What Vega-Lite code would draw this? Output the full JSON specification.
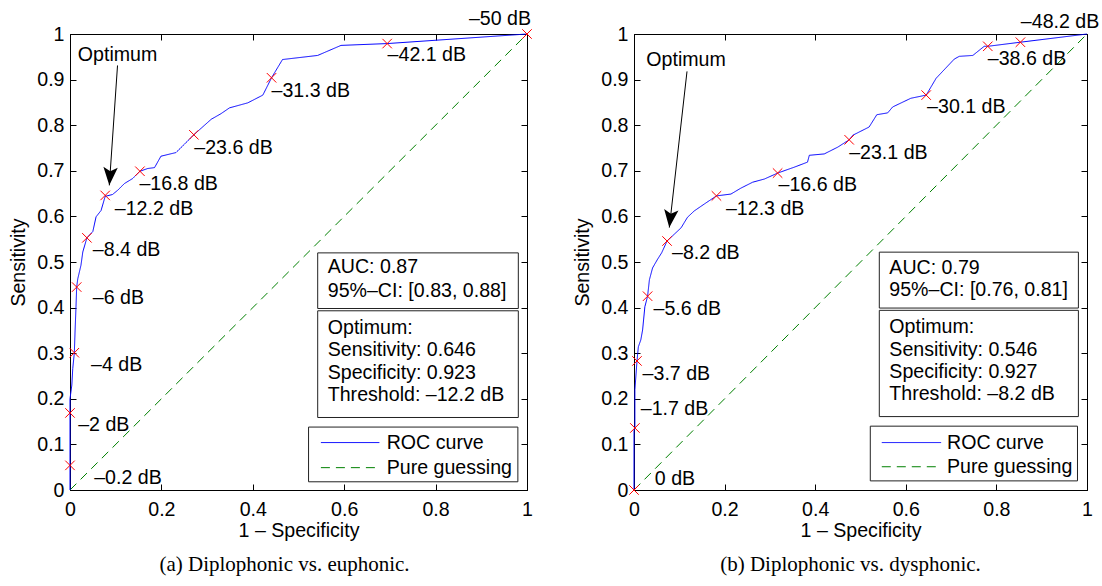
{
  "$schema": "https://vega.github.io/schema/vega-lite/v6.json",
  "padding": {"left": 8, "top": 8, "right": 4, "bottom": 10},
  "background": "white",
  "datasets": {
    "rocA": [
      {"series": "Pure guessing", "fpr": 0, "tpr": 0},
      {"series": "Pure guessing", "fpr": 1, "tpr": 1},
      {"series": "ROC curve", "fpr": 0, "tpr": 0},
      {"series": "ROC curve", "fpr": 0, "tpr": 0.055},
      {"series": "ROC curve", "fpr": 0, "tpr": 0.17},
      {"series": "ROC curve", "fpr": 0, "tpr": 0.2},
      {"series": "ROC curve", "fpr": 0.004, "tpr": 0.23},
      {"series": "ROC curve", "fpr": 0.006, "tpr": 0.266},
      {"series": "ROC curve", "fpr": 0.0095, "tpr": 0.301},
      {"series": "ROC curve", "fpr": 0.011, "tpr": 0.346},
      {"series": "ROC curve", "fpr": 0.013, "tpr": 0.398},
      {"series": "ROC curve", "fpr": 0.0146, "tpr": 0.445},
      {"series": "ROC curve", "fpr": 0.017, "tpr": 0.463},
      {"series": "ROC curve", "fpr": 0.024, "tpr": 0.493},
      {"series": "ROC curve", "fpr": 0.028, "tpr": 0.522},
      {"series": "ROC curve", "fpr": 0.037, "tpr": 0.553},
      {"series": "ROC curve", "fpr": 0.05, "tpr": 0.567},
      {"series": "ROC curve", "fpr": 0.057, "tpr": 0.599},
      {"series": "ROC curve", "fpr": 0.068, "tpr": 0.613},
      {"series": "ROC curve", "fpr": 0.077, "tpr": 0.644},
      {"series": "ROC curve", "fpr": 0.093, "tpr": 0.648},
      {"series": "ROC curve", "fpr": 0.104, "tpr": 0.657},
      {"series": "ROC curve", "fpr": 0.119, "tpr": 0.672},
      {"series": "ROC curve", "fpr": 0.137, "tpr": 0.683},
      {"series": "ROC curve", "fpr": 0.153, "tpr": 0.699},
      {"series": "ROC curve", "fpr": 0.17, "tpr": 0.705},
      {"series": "ROC curve", "fpr": 0.185, "tpr": 0.707},
      {"series": "ROC curve", "fpr": 0.199, "tpr": 0.732},
      {"series": "ROC curve", "fpr": 0.232, "tpr": 0.74},
      {"series": "ROC curve", "fpr": 0.271, "tpr": 0.779},
      {"series": "ROC curve", "fpr": 0.309, "tpr": 0.813},
      {"series": "ROC curve", "fpr": 0.33, "tpr": 0.825},
      {"series": "ROC curve", "fpr": 0.349, "tpr": 0.838},
      {"series": "ROC curve", "fpr": 0.389, "tpr": 0.849},
      {"series": "ROC curve", "fpr": 0.422, "tpr": 0.866},
      {"series": "ROC curve", "fpr": 0.441, "tpr": 0.904},
      {"series": "ROC curve", "fpr": 0.465, "tpr": 0.944},
      {"series": "ROC curve", "fpr": 0.542, "tpr": 0.953},
      {"series": "ROC curve", "fpr": 0.593, "tpr": 0.975},
      {"series": "ROC curve", "fpr": 0.694, "tpr": 0.979},
      {"series": "ROC curve", "fpr": 1, "tpr": 1}
    ],
    "rocB": [
      {"series": "Pure guessing", "fpr": 0, "tpr": 0},
      {"series": "Pure guessing", "fpr": 1, "tpr": 1},
      {"series": "ROC curve", "fpr": 0, "tpr": 0},
      {"series": "ROC curve", "fpr": 0, "tpr": 0.13},
      {"series": "ROC curve", "fpr": 0.002, "tpr": 0.136},
      {"series": "ROC curve", "fpr": 0.002, "tpr": 0.22},
      {"series": "ROC curve", "fpr": 0.0066, "tpr": 0.283},
      {"series": "ROC curve", "fpr": 0.0096, "tpr": 0.314},
      {"series": "ROC curve", "fpr": 0.015, "tpr": 0.329},
      {"series": "ROC curve", "fpr": 0.019, "tpr": 0.351},
      {"series": "ROC curve", "fpr": 0.024, "tpr": 0.402},
      {"series": "ROC curve", "fpr": 0.03, "tpr": 0.425},
      {"series": "ROC curve", "fpr": 0.034, "tpr": 0.461},
      {"series": "ROC curve", "fpr": 0.041, "tpr": 0.487},
      {"series": "ROC curve", "fpr": 0.052, "tpr": 0.506},
      {"series": "ROC curve", "fpr": 0.061, "tpr": 0.52},
      {"series": "ROC curve", "fpr": 0.073, "tpr": 0.546},
      {"series": "ROC curve", "fpr": 0.089, "tpr": 0.561},
      {"series": "ROC curve", "fpr": 0.104, "tpr": 0.575},
      {"series": "ROC curve", "fpr": 0.118, "tpr": 0.598},
      {"series": "ROC curve", "fpr": 0.133, "tpr": 0.612},
      {"series": "ROC curve", "fpr": 0.155, "tpr": 0.627},
      {"series": "ROC curve", "fpr": 0.182, "tpr": 0.645},
      {"series": "ROC curve", "fpr": 0.214, "tpr": 0.649},
      {"series": "ROC curve", "fpr": 0.236, "tpr": 0.662},
      {"series": "ROC curve", "fpr": 0.262, "tpr": 0.675},
      {"series": "ROC curve", "fpr": 0.288, "tpr": 0.682},
      {"series": "ROC curve", "fpr": 0.317, "tpr": 0.695},
      {"series": "ROC curve", "fpr": 0.354, "tpr": 0.708},
      {"series": "ROC curve", "fpr": 0.383, "tpr": 0.719},
      {"series": "ROC curve", "fpr": 0.387, "tpr": 0.734},
      {"series": "ROC curve", "fpr": 0.42, "tpr": 0.737},
      {"series": "ROC curve", "fpr": 0.45, "tpr": 0.752},
      {"series": "ROC curve", "fpr": 0.475, "tpr": 0.768},
      {"series": "ROC curve", "fpr": 0.483, "tpr": 0.778},
      {"series": "ROC curve", "fpr": 0.519, "tpr": 0.796},
      {"series": "ROC curve", "fpr": 0.536, "tpr": 0.823},
      {"series": "ROC curve", "fpr": 0.56, "tpr": 0.827},
      {"series": "ROC curve", "fpr": 0.571, "tpr": 0.84},
      {"series": "ROC curve", "fpr": 0.611, "tpr": 0.859},
      {"series": "ROC curve", "fpr": 0.645, "tpr": 0.866},
      {"series": "ROC curve", "fpr": 0.667, "tpr": 0.903},
      {"series": "ROC curve", "fpr": 0.707, "tpr": 0.945},
      {"series": "ROC curve", "fpr": 0.718, "tpr": 0.951},
      {"series": "ROC curve", "fpr": 0.748, "tpr": 0.953},
      {"series": "ROC curve", "fpr": 0.773, "tpr": 0.973},
      {"series": "ROC curve", "fpr": 0.781, "tpr": 0.973},
      {"series": "ROC curve", "fpr": 0.853, "tpr": 0.982},
      {"series": "ROC curve", "fpr": 1, "tpr": 1}
    ],
    "markA": [
      {"label": "–0.2 dB", "fpr": 0, "tpr": 0.054, "lx": 0.053, "ly": 0.026},
      {"label": "–2 dB", "fpr": 0, "tpr": 0.169, "lx": 0.018, "ly": 0.143},
      {"label": "–4 dB", "fpr": 0.0095, "tpr": 0.301, "lx": 0.046, "ly": 0.275},
      {"label": "–6 dB", "fpr": 0.0146, "tpr": 0.445, "lx": 0.05, "ly": 0.42},
      {"label": "–8.4 dB", "fpr": 0.037, "tpr": 0.553, "lx": 0.05, "ly": 0.526},
      {"label": "–12.2 dB", "fpr": 0.077, "tpr": 0.646, "lx": 0.098, "ly": 0.617},
      {"label": "–16.8 dB", "fpr": 0.153, "tpr": 0.699, "lx": 0.152, "ly": 0.672},
      {"label": "–23.6 dB", "fpr": 0.271, "tpr": 0.779, "lx": 0.272, "ly": 0.751},
      {"label": "–31.3 dB", "fpr": 0.441, "tpr": 0.904, "lx": 0.441, "ly": 0.876},
      {"label": "–42.1 dB", "fpr": 0.694, "tpr": 0.979, "lx": 0.695, "ly": 0.953},
      {"label": "–50 dB", "fpr": 1, "tpr": 1, "lx": 0.873, "ly": 1.033}
    ],
    "markB": [
      {"label": "0 dB", "fpr": 0, "tpr": 0, "lx": 0.046, "ly": 0.024},
      {"label": "–1.7 dB", "fpr": 0.002, "tpr": 0.136, "lx": 0.015, "ly": 0.178},
      {"label": "–3.7 dB", "fpr": 0.0066, "tpr": 0.283, "lx": 0.019, "ly": 0.255},
      {"label": "–5.6 dB", "fpr": 0.03, "tpr": 0.425, "lx": 0.043, "ly": 0.397},
      {"label": "–8.2 dB", "fpr": 0.073, "tpr": 0.546, "lx": 0.084, "ly": 0.519},
      {"label": "–12.3 dB", "fpr": 0.182, "tpr": 0.645, "lx": 0.203, "ly": 0.617},
      {"label": "–16.6 dB", "fpr": 0.317, "tpr": 0.695, "lx": 0.319, "ly": 0.669},
      {"label": "–23.1 dB", "fpr": 0.475, "tpr": 0.768, "lx": 0.475, "ly": 0.74},
      {"label": "–30.1 dB", "fpr": 0.645, "tpr": 0.866, "lx": 0.647, "ly": 0.84},
      {"label": "–38.6 dB", "fpr": 0.781, "tpr": 0.973, "lx": 0.781, "ly": 0.945},
      {"label": "–48.2 dB", "fpr": 0.853, "tpr": 0.982, "lx": 0.854, "ly": 1.026}
    ],
    "boxA": [
      {"x1": 0.542, "x2": 0.981, "y1": 0.398, "y2": 0.52},
      {"x1": 0.542, "x2": 0.981, "y1": 0.159, "y2": 0.393},
      {"x1": 0.522, "x2": 0.98, "y1": 0.018, "y2": 0.138}
    ],
    "boxB": [
      {"x1": 0.5415, "x2": 0.981, "y1": 0.399, "y2": 0.5216},
      {"x1": 0.5415, "x2": 0.981, "y1": 0.161, "y2": 0.394},
      {"x1": 0.5216, "x2": 0.979, "y1": 0.02, "y2": 0.14}
    ],
    "txtA": [
      {"tx": 0.564, "ty": 0.489, "t": "AUC: 0.87"},
      {"tx": 0.564, "ty": 0.436, "t": "95%–CI: [0.83, 0.88]"},
      {"tx": 0.564, "ty": 0.355, "t": "Optimum:"},
      {"tx": 0.564, "ty": 0.306, "t": "Sensitivity: 0.646"},
      {"tx": 0.564, "ty": 0.257, "t": "Specificity: 0.923"},
      {"tx": 0.564, "ty": 0.208, "t": "Threshold: –12.2 dB"},
      {"tx": 0.693, "ty": 0.104, "t": "ROC curve"},
      {"tx": 0.693, "ty": 0.049, "t": "Pure guessing"}
    ],
    "txtB": [
      {"tx": 0.5636, "ty": 0.487, "t": "AUC: 0.79"},
      {"tx": 0.5636, "ty": 0.439, "t": "95%–CI: [0.76, 0.81]"},
      {"tx": 0.5636, "ty": 0.357, "t": "Optimum:"},
      {"tx": 0.5636, "ty": 0.307, "t": "Sensitivity: 0.546"},
      {"tx": 0.5636, "ty": 0.259, "t": "Specificity: 0.927"},
      {"tx": 0.5636, "ty": 0.21, "t": "Threshold: –8.2 dB"},
      {"tx": 0.691, "ty": 0.104, "t": "ROC curve"},
      {"tx": 0.691, "ty": 0.051, "t": "Pure guessing"}
    ],
    "legA": [
      {"series": "ROC curve", "x1": 0.549, "x2": 0.677, "y": 0.104},
      {"series": "Pure guessing", "x1": 0.549, "x2": 0.677, "y": 0.049}
    ],
    "legB": [
      {"series": "ROC curve", "x1": 0.547, "x2": 0.678, "y": 0.104},
      {"series": "Pure guessing", "x1": 0.547, "x2": 0.678, "y": 0.051}
    ],
    "arrA": [
      {"t": "Optimum", "tx": 0.104, "ty": 0.955, "x1": 0.104, "y1": 0.931, "x2": 0.086, "y2": 0.668, "hx": 0.0874, "hy": 0.688}
    ],
    "arrB": [
      {"t": "Optimum", "tx": 0.115, "ty": 0.943, "x1": 0.117, "y1": 0.918, "x2": 0.078, "y2": 0.5755, "hx": 0.0801, "hy": 0.595}
    ]
  },
  "hconcat": [
    {
      "width": 457,
      "height": 456,
      "title": {"text": "(a) Diplophonic vs. euphonic.", "orient": "bottom", "frame": "group", "dx": -14, "offset": 14, "font": "Liberation Serif", "fontSize": 21, "fontWeight": "normal", "color": "black"},
      "resolve": {"axis": {"x": "independent", "y": "independent"}},
      "layer": [
        {
          "data": {"name": "rocA"},
          "mark": {"type": "line", "strokeWidth": 1},
          "encoding": {
            "x": {"field": "fpr", "type": "quantitative", "scale": {"domain": [0, 1], "nice": false}, "axis": {"title": "1 – Specificity", "values": [0, 0.2, 0.4, 0.6, 0.8, 1], "format": "~g", "labelPadding": 16, "titlePadding": 3}},
            "y": {"field": "tpr", "type": "quantitative", "scale": {"domain": [0, 1], "nice": false}, "axis": {"title": "Sensitivity", "values": [0, 0.1, 0.2, 0.3, 0.4, 0.5, 0.6, 0.7, 0.8, 0.9, 1], "format": "~g", "labelPadding": 12, "titlePadding": 8}},
            "color": {"field": "series", "type": "nominal", "scale": {"domain": ["ROC curve", "Pure guessing"], "range": ["#0000ff", "#008000"]}, "legend": null},
            "strokeDash": {"field": "series", "type": "nominal", "scale": {"domain": ["ROC curve", "Pure guessing"], "range": [[1, 0], [9, 6]]}, "legend": null},
            "order": [{"field": "tpr", "type": "quantitative"}, {"field": "fpr", "type": "quantitative"}]
          }
        },
        {
          "data": {"name": "markA"},
          "mark": {"type": "point", "shape": "M-1,-1L1,1M1,-1L-1,1", "size": 90, "filled": false, "color": "#ff0000", "strokeWidth": 1, "opacity": 1},
          "encoding": {
            "x": {"field": "fpr", "type": "quantitative", "scale": {"domain": [0, 1], "nice": false}, "axis": {"orient": "top", "labels": false, "title": null, "domain": false, "values": [0, 0.2, 0.4, 0.6, 0.8, 1]}},
            "y": {"field": "tpr", "type": "quantitative", "scale": {"domain": [0, 1], "nice": false}, "axis": {"orient": "right", "labels": false, "title": null, "domain": false, "values": [0, 0.1, 0.2, 0.3, 0.4, 0.5, 0.6, 0.7, 0.8, 0.9, 1]}}
          }
        },
        {
          "data": {"name": "markA"},
          "mark": {"type": "text", "align": "left", "baseline": "middle", "fontSize": 19.6, "color": "black"},
          "encoding": {
            "x": {"field": "lx", "type": "quantitative", "scale": {"domain": [0, 1], "nice": false}, "axis": null},
            "y": {"field": "ly", "type": "quantitative", "scale": {"domain": [0, 1], "nice": false}, "axis": null},
            "text": {"field": "label"}
          }
        },
        {
          "data": {"name": "boxA"},
          "mark": {"type": "rect", "fill": "white", "stroke": "#222222", "strokeWidth": 1},
          "encoding": {
            "x": {"field": "x1", "type": "quantitative", "scale": {"domain": [0, 1], "nice": false}, "axis": null},
            "x2": {"field": "x2"},
            "y": {"field": "y1", "type": "quantitative", "scale": {"domain": [0, 1], "nice": false}, "axis": null},
            "y2": {"field": "y2"}
          }
        },
        {
          "data": {"name": "txtA"},
          "mark": {"type": "text", "align": "left", "baseline": "middle", "fontSize": 19.6, "color": "black"},
          "encoding": {
            "x": {"field": "tx", "type": "quantitative", "scale": {"domain": [0, 1], "nice": false}, "axis": null},
            "y": {"field": "ty", "type": "quantitative", "scale": {"domain": [0, 1], "nice": false}, "axis": null},
            "text": {"field": "t"}
          }
        },
        {
          "data": {"name": "legA"},
          "mark": {"type": "rule", "strokeWidth": 1},
          "encoding": {
            "x": {"field": "x1", "type": "quantitative", "scale": {"domain": [0, 1], "nice": false}, "axis": null},
            "x2": {"field": "x2"},
            "y": {"field": "y", "type": "quantitative", "scale": {"domain": [0, 1], "nice": false}, "axis": null},
            "color": {"field": "series", "type": "nominal", "legend": null},
            "strokeDash": {"field": "series", "type": "nominal", "legend": null}
          }
        },
        {
          "data": {"name": "arrA"},
          "mark": {"type": "text", "align": "center", "baseline": "middle", "fontSize": 19.6, "color": "black"},
          "encoding": {
            "x": {"field": "tx", "type": "quantitative", "scale": {"domain": [0, 1], "nice": false}, "axis": null},
            "y": {"field": "ty", "type": "quantitative", "scale": {"domain": [0, 1], "nice": false}, "axis": null},
            "text": {"field": "t"}
          }
        },
        {
          "data": {"name": "arrA"},
          "mark": {"type": "rule", "color": "black", "strokeWidth": 1},
          "encoding": {
            "x": {"field": "x1", "type": "quantitative", "scale": {"domain": [0, 1], "nice": false}, "axis": null},
            "x2": {"field": "x2"},
            "y": {"field": "y1", "type": "quantitative", "scale": {"domain": [0, 1], "nice": false}, "axis": null},
            "y2": {"field": "y2"}
          }
        },
        {
          "data": {"name": "arrA"},
          "mark": {"type": "point", "shape": "M0,1L-0.8,-1L0,-0.55L0.8,-1Z", "size": 324, "filled": true, "color": "black", "opacity": 1, "angle": 4},
          "encoding": {
            "x": {"field": "hx", "type": "quantitative", "scale": {"domain": [0, 1], "nice": false}, "axis": null},
            "y": {"field": "hy", "type": "quantitative", "scale": {"domain": [0, 1], "nice": false}, "axis": null}
          }
        }
      ]
    },
    {
      "width": 453,
      "height": 456,
      "title": {"text": "(b) Diplophonic vs. dysphonic.", "orient": "bottom", "frame": "group", "dx": -10, "offset": 14, "font": "Liberation Serif", "fontSize": 21, "fontWeight": "normal", "color": "black"},
      "resolve": {"axis": {"x": "independent", "y": "independent"}},
      "layer": [
        {
          "data": {"name": "rocB"},
          "mark": {"type": "line", "strokeWidth": 1},
          "encoding": {
            "x": {"field": "fpr", "type": "quantitative", "scale": {"domain": [0, 1], "nice": false}, "axis": {"title": "1 – Specificity", "values": [0, 0.2, 0.4, 0.6, 0.8, 1], "format": "~g", "labelPadding": 16, "titlePadding": 3}},
            "y": {"field": "tpr", "type": "quantitative", "scale": {"domain": [0, 1], "nice": false}, "axis": {"title": "Sensitivity", "values": [0, 0.1, 0.2, 0.3, 0.4, 0.5, 0.6, 0.7, 0.8, 0.9, 1], "format": "~g", "labelPadding": 12, "titlePadding": 8}},
            "color": {"field": "series", "type": "nominal", "scale": {"domain": ["ROC curve", "Pure guessing"], "range": ["#0000ff", "#008000"]}, "legend": null},
            "strokeDash": {"field": "series", "type": "nominal", "scale": {"domain": ["ROC curve", "Pure guessing"], "range": [[1, 0], [9, 6]]}, "legend": null},
            "order": [{"field": "tpr", "type": "quantitative"}, {"field": "fpr", "type": "quantitative"}]
          }
        },
        {
          "data": {"name": "markB"},
          "mark": {"type": "point", "shape": "M-1,-1L1,1M1,-1L-1,1", "size": 90, "filled": false, "color": "#ff0000", "strokeWidth": 1, "opacity": 1},
          "encoding": {
            "x": {"field": "fpr", "type": "quantitative", "scale": {"domain": [0, 1], "nice": false}, "axis": {"orient": "top", "labels": false, "title": null, "domain": false, "values": [0, 0.2, 0.4, 0.6, 0.8, 1]}},
            "y": {"field": "tpr", "type": "quantitative", "scale": {"domain": [0, 1], "nice": false}, "axis": {"orient": "right", "labels": false, "title": null, "domain": false, "values": [0, 0.1, 0.2, 0.3, 0.4, 0.5, 0.6, 0.7, 0.8, 0.9, 1]}}
          }
        },
        {
          "data": {"name": "markB"},
          "mark": {"type": "text", "align": "left", "baseline": "middle", "fontSize": 19.6, "color": "black"},
          "encoding": {
            "x": {"field": "lx", "type": "quantitative", "scale": {"domain": [0, 1], "nice": false}, "axis": null},
            "y": {"field": "ly", "type": "quantitative", "scale": {"domain": [0, 1], "nice": false}, "axis": null},
            "text": {"field": "label"}
          }
        },
        {
          "data": {"name": "boxB"},
          "mark": {"type": "rect", "fill": "white", "stroke": "#222222", "strokeWidth": 1},
          "encoding": {
            "x": {"field": "x1", "type": "quantitative", "scale": {"domain": [0, 1], "nice": false}, "axis": null},
            "x2": {"field": "x2"},
            "y": {"field": "y1", "type": "quantitative", "scale": {"domain": [0, 1], "nice": false}, "axis": null},
            "y2": {"field": "y2"}
          }
        },
        {
          "data": {"name": "txtB"},
          "mark": {"type": "text", "align": "left", "baseline": "middle", "fontSize": 19.6, "color": "black"},
          "encoding": {
            "x": {"field": "tx", "type": "quantitative", "scale": {"domain": [0, 1], "nice": false}, "axis": null},
            "y": {"field": "ty", "type": "quantitative", "scale": {"domain": [0, 1], "nice": false}, "axis": null},
            "text": {"field": "t"}
          }
        },
        {
          "data": {"name": "legB"},
          "mark": {"type": "rule", "strokeWidth": 1},
          "encoding": {
            "x": {"field": "x1", "type": "quantitative", "scale": {"domain": [0, 1], "nice": false}, "axis": null},
            "x2": {"field": "x2"},
            "y": {"field": "y", "type": "quantitative", "scale": {"domain": [0, 1], "nice": false}, "axis": null},
            "color": {"field": "series", "type": "nominal", "legend": null},
            "strokeDash": {"field": "series", "type": "nominal", "legend": null}
          }
        },
        {
          "data": {"name": "arrB"},
          "mark": {"type": "text", "align": "center", "baseline": "middle", "fontSize": 19.6, "color": "black"},
          "encoding": {
            "x": {"field": "tx", "type": "quantitative", "scale": {"domain": [0, 1], "nice": false}, "axis": null},
            "y": {"field": "ty", "type": "quantitative", "scale": {"domain": [0, 1], "nice": false}, "axis": null},
            "text": {"field": "t"}
          }
        },
        {
          "data": {"name": "arrB"},
          "mark": {"type": "rule", "color": "black", "strokeWidth": 1},
          "encoding": {
            "x": {"field": "x1", "type": "quantitative", "scale": {"domain": [0, 1], "nice": false}, "axis": null},
            "x2": {"field": "x2"},
            "y": {"field": "y1", "type": "quantitative", "scale": {"domain": [0, 1], "nice": false}, "axis": null},
            "y2": {"field": "y2"}
          }
        },
        {
          "data": {"name": "arrB"},
          "mark": {"type": "point", "shape": "M0,1L-0.8,-1L0,-0.55L0.8,-1Z", "size": 324, "filled": true, "color": "black", "opacity": 1, "angle": 6.5},
          "encoding": {
            "x": {"field": "hx", "type": "quantitative", "scale": {"domain": [0, 1], "nice": false}, "axis": null},
            "y": {"field": "hy", "type": "quantitative", "scale": {"domain": [0, 1], "nice": false}, "axis": null}
          }
        }
      ]
    }
  ],
  "spacing": 107,
  "bounds": "flush",
  "config": {
    "font": "Liberation Sans",
    "view": {"stroke": "black", "strokeWidth": 1},
    "axis": {
      "labelFont": "Liberation Sans",
      "titleFont": "Liberation Sans",
      "labelFontSize": 19.6,
      "titleFontSize": 19.6,
      "titleFontWeight": "normal",
      "labelColor": "black",
      "titleColor": "black",
      "domainColor": "black",
      "tickColor": "black",
      "tickSize": -6,
      "grid": false,
      "labelFlush": false,
      "labelOverlap": false
    },
    "text": {"font": "Liberation Sans"}
  }
}
